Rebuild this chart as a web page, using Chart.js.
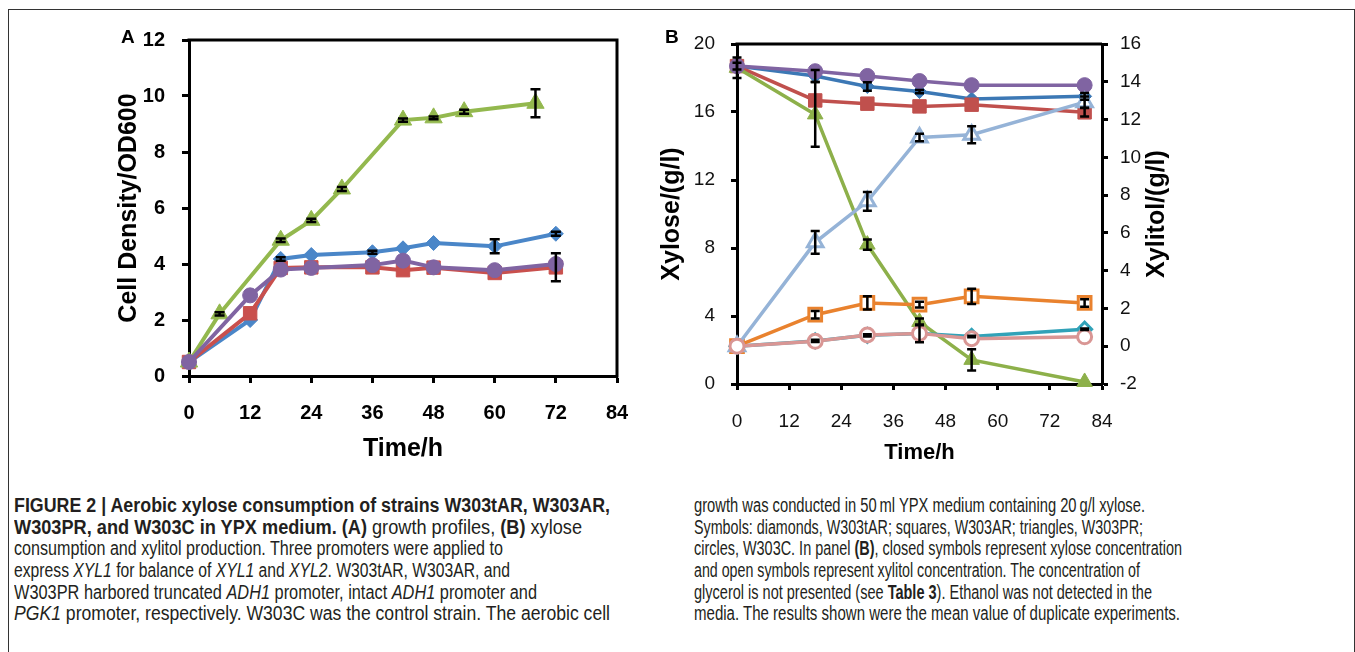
<!DOCTYPE html>
<html>
<head>
<meta charset="utf-8">
<script src="https://cdn.jsdelivr.net/npm/chart.js@4.4.1/dist/chart.umd.min.js"></script>
<style>
  body { margin: 0; width: 1355px; height: 652px; background: #fff; position: relative; overflow: hidden;
         font-family: "Liberation Sans", Arial, sans-serif; }
  #frame { position: absolute; left: 8px; top: 9px; width: 1345px; height: 700px; border: 1px solid #333; }
  canvas { position: absolute; }
  #chartA { left: 110px; top: 25px; }
  #chartB { left: 650px; top: 25px; }
  .panel { position: absolute; font-weight: bold; font-size: 19px; color: #000; }
  .caption { position: absolute; top: 495px; font-family: "Liberation Sans Narrow", "Liberation Sans", Arial, sans-serif;
             font-size: 20px; line-height: 21.7px; color: #231f20; white-space: nowrap; }
  .caption div { white-space: nowrap; height: 21.7px; }
  .caption span.line { display: inline-block; transform-origin: 0 0; }
</style>
</head>
<body>
<div id="frame"></div>
<canvas id="chartA" width="530" height="450"></canvas>
<canvas id="chartB" width="530" height="450"></canvas>
<div class="panel" style="left:121px; top:26px;">A</div>
<div class="panel" style="left:665px; top:26px;">B</div>

<!-- data-end: right edge of each caption line in the reference -->
<div class="caption" id="capLeft" style="left:14px;">
  <div><span class="line" data-end="610"><b>FIGURE 2 | Aerobic xylose consumption of strains W303tAR, W303AR,</b></span></div>
  <div><span class="line" data-end="582"><b>W303PR, and W303C in YPX medium. (A)</b> growth profiles, <b>(B)</b> xylose</span></div>
  <div><span class="line" data-end="503">consumption and xylitol production. Three promoters were applied to</span></div>
  <div><span class="line" data-end="510">express <i>XYL1</i> for balance of <i>XYL1</i> and <i>XYL2</i>. W303tAR, W303AR, and</span></div>
  <div><span class="line" data-end="537">W303PR harbored truncated <i>ADH1</i> promoter, intact <i>ADH1</i> promoter and</span></div>
  <div><span class="line" data-end="610"><i>PGK1</i> promoter, respectively. W303C was the control strain. The aerobic cell</span></div>
</div>
<div class="caption" id="capRight" style="left:694px;">
  <div><span class="line" data-end="1145">growth was conducted in 50&#8201;ml YPX medium containing 20&#8201;g/l xylose.</span></div>
  <div><span class="line" data-end="1143">Symbols: diamonds, W303tAR; squares, W303AR; triangles, W303PR;</span></div>
  <div><span class="line" data-end="1182">circles, W303C. In panel <b>(B)</b>, closed symbols represent xylose concentration</span></div>
  <div><span class="line" data-end="1140">and open symbols represent xylitol concentration. The concentration of</span></div>
  <div><span class="line" data-end="1152">glycerol is not presented (see <b>Table 3</b>). Ethanol was not detected in the</span></div>
  <div><span class="line" data-end="1180">media. The results shown were the mean value of duplicate experiments.</span></div>
</div>

<script>
// ---- Panel A: growth profiles (OD600) ----
const timeA = [0, 12, 18, 24, 36, 42, 48, 60, 72];
const timeA_PR = [0, 6, 18, 24, 30, 42, 48, 54, 68];
const odTAR = [0.5, 2.0, 4.18, 4.32, 4.42, 4.56, 4.75, 4.63, 5.08];
const odAR  = [0.5, 2.24, 3.86, 3.88, 3.88, 3.78, 3.87, 3.68, 3.88];
const odPR  = [0.5, 2.22, 4.85, 5.56, 6.68, 9.14, 9.22, 9.44, 9.74];
const odC   = [0.5, 2.88, 3.8, 3.86, 3.96, 4.12, 3.88, 3.78, 4.0];
const errTAR = [0, 0, 0.06, 0, 0.05, 0, 0, 0.25, 0.07];
const errAR  = [0, 0, 0, 0, 0, 0, 0, 0, 0.5];
const errPR  = [0, 0.06, 0.06, 0.06, 0.07, 0.06, 0.05, 0.07, 0.5];
const errC   = [0, 0, 0, 0, 0, 0, 0, 0, 0];

// ---- Panel B: xylose (left axis) and xylitol (right axis) ----
const timeB = [0, 18, 30, 42, 54, 80];
const xyloseTAR = [18.7, 18.12, 17.5, 17.2, 16.76, 16.92];
const xyloseAR  = [18.7, 16.68, 16.49, 16.33, 16.43, 15.98];
const xylosePR  = [18.6, 15.86, 8.2, 3.65, 1.42, 0.12];
const xyloseC   = [18.7, 18.4, 18.12, 17.82, 17.58, 17.58];
const xylitolTAR = [0, 0.28, 0.58, 0.68, 0.52, 0.9];
const xylitolAR  = [0, 1.67, 2.29, 2.2, 2.64, 2.29];
const xylitolPR  = [0, 5.5, 7.67, 11.05, 11.2, 12.92];
const xylitolC   = [0, 0.26, 0.6, 0.68, 0.4, 0.5];
const errXyloseTAR = [0.2, 0.35, 0.25, 0.1, 0, 0.2];
const errXyloseAR  = [0, 0, 0, 0, 0, 0.25];
const errXylosePR  = [0.6, 1.9, 0.3, 0.2, 0.62, 0];
const errXylitolTAR = [0, 0.06, 0.06, 0.47, 0.04, 0.04];
const errXylitolAR  = [0, 0.2, 0.35, 0.15, 0.4, 0.2];
const errXylitolPR  = [0, 0.6, 0.5, 0.2, 0.45, 0.3];

const ticksX = { min: 0, max: 84, step: 12 };

function pts(xs, ys) {
    return xs.map((x, i) => ({ x: x, y: ys[i] }));
}

Chart.defaults.font.family = '"Liberation Sans", Arial, sans-serif';
Chart.defaults.color = '#000';

// Error bars drawn from each dataset's "errors" array
const errorBars = {
    id: 'errorBars',
    afterDatasetsDraw(chart, args, opts) {
        const ctx = chart.ctx;
        ctx.save();
        ctx.strokeStyle = '#000';
        ctx.lineWidth = opts.lineWidth;
        chart.data.datasets.forEach((ds, i) => {
            if (!ds.errors) return;
            const meta = chart.getDatasetMeta(i);
            const yScale = chart.scales[meta.yAxisID];
            meta.data.forEach((pt, j) => {
                const e = ds.errors[j];
                if (!e) return;
                const v = ds.data[j].y;
                const y1 = yScale.getPixelForValue(v + e);
                const y2 = yScale.getPixelForValue(v - e);
                const hw = opts.capWidth / 2;
                ctx.beginPath();
                ctx.moveTo(pt.x, y1); ctx.lineTo(pt.x, y2);
                ctx.moveTo(pt.x - hw, y1); ctx.lineTo(pt.x + hw, y1);
                ctx.moveTo(pt.x - hw, y2); ctx.lineTo(pt.x + hw, y2);
                ctx.stroke();
            });
        });
        ctx.restore();
    }
};

// Top (and right) border of the plot box, plus an optional right-hand title
const plotBox = {
    id: 'plotBox',
    afterDraw(chart, args, opts) {
        const ctx = chart.ctx;
        const a = chart.chartArea;
        ctx.save();
        ctx.strokeStyle = '#000';
        ctx.lineWidth = 3;
        ctx.beginPath();
        ctx.moveTo(a.left - 1.5, a.top);
        ctx.lineTo(a.right, a.top);
        if (opts.right) ctx.lineTo(a.right, a.bottom + 1.5);
        ctx.stroke();
        if (opts.rightTitle) {
            ctx.translate(opts.rightTitleX, (a.top + a.bottom) / 2);
            ctx.rotate(-Math.PI / 2);
            ctx.font = 'bold 25px "Liberation Sans", Arial, sans-serif';
            ctx.fillStyle = '#000';
            ctx.textAlign = 'center';
            ctx.textBaseline = 'middle';
            ctx.fillText(opts.rightTitle, 0, 0);
        }
        ctx.restore();
    }
};

// fixed axis sizes so the plot box lands where the reference has it
function fixSize(w, h) {
    return s => {
        if (w) s.width = w;
        if (h) s.height = h;
        s.paddingTop = 0; s.paddingBottom = 0;
        s.paddingLeft = 0; s.paddingRight = 0;
    };
}

function lineSet(label, xs, ys, errs, color, style, radius, opts) {
    opts = opts || {};
    return Object.assign({
        label: label,
        data: pts(xs, ys),
        errors: errs,
        borderColor: color,
        backgroundColor: color,
        pointBackgroundColor: opts.open ? '#fff' : color,
        pointBorderColor: color,
        pointBorderWidth: opts.open ? 3 : 1,
        borderWidth: opts.lineWidth || 4,
        pointStyle: style,
        pointRadius: radius,
        tension: 0,
        clip: false,
        yAxisID: opts.yAxisID || 'y'
    }, opts.extra || {});
}

// ---------- Panel A ----------
new Chart(document.getElementById('chartA'), {
    type: 'line',
    data: {
        datasets: [
            lineSet('W303C', timeA, odC, errC, '#8064a2', 'circle', 7.5, { extra: { order: 1 } }),
            lineSet('W303PR', timeA_PR, odPR, errPR, '#93b84e', 'triangle', 10, { extra: { order: 2 } }),
            lineSet('W303AR', timeA, odAR, errAR, '#c9504d', 'rect', 9.5, { extra: { order: 3 } }),
            lineSet('W303tAR', timeA, odTAR, errTAR, '#4a86c8', 'rectRot', 7.5, { extra: { order: 4 } })
        ]
    },
    options: {
        responsive: false,
        animation: false,
        events: [],
        layout: { padding: { left: 0, right: 23, top: 15, bottom: 0 } },
        plugins: {
            legend: { display: false },
            tooltip: { enabled: false },
            errorBars: { lineWidth: 2.5, capWidth: 10 },
            plotBox: { right: true }
        },
        scales: {
            x: {
                type: 'linear', min: ticksX.min, max: ticksX.max,
                afterFit: fixSize(0, 99),
                ticks: { stepSize: ticksX.step, padding: 18, font: { size: 20, weight: 'bold' }, color: '#000' },
                grid: { drawOnChartArea: false, drawTicks: true, tickLength: 7, tickWidth: 3, tickColor: '#000' },
                border: { display: true, color: '#000', width: 3 },
                title: { display: true, text: 'Time/h', font: { size: 25, weight: 'bold' }, color: '#000',
                         padding: { top: 0, bottom: 11 } }
            },
            y: {
                min: 0, max: 12,
                afterFit: fixSize(79, 0),
                ticks: { stepSize: 2, padding: 17, font: { size: 20, weight: 'bold' }, color: '#000' },
                grid: { drawOnChartArea: false, drawTicks: true, tickLength: 7, tickWidth: 3, tickColor: '#000' },
                border: { display: true, color: '#000', width: 3 },
                title: { display: true, text: 'Cell Density/OD600', font: { size: 25, weight: 'bold' }, color: '#000',
                         padding: { top: 4, bottom: 0 } }
            }
        }
    },
    plugins: [errorBars, plotBox]
});

// ---------- Panel B ----------
new Chart(document.getElementById('chartB'), {
    type: 'line',
    data: {
        datasets: [
            lineSet('W303C xylitol', timeB, xylitolC, null, '#d99694', 'circle', 7, { open: true, lineWidth: 3.5, yAxisID: 'y2', extra: { order: 1 } }),
            lineSet('W303PR xylitol', timeB, xylitolPR, errXylitolPR, '#95b3d7', 'triangle', 9, { open: true, lineWidth: 3.5, yAxisID: 'y2', extra: { order: 2 } }),
            lineSet('W303AR xylitol', timeB, xylitolAR, errXylitolAR, '#e9822e', 'rect', 9, { open: true, lineWidth: 3.5, yAxisID: 'y2', extra: { order: 3 } }),
            lineSet('W303tAR xylitol', timeB, xylitolTAR, errXylitolTAR, '#31a2b8', 'rectRot', 7, { open: true, lineWidth: 3.5, yAxisID: 'y2', extra: { order: 4 } }),
            lineSet('W303C xylose', timeB, xyloseC, null, '#8064a2', 'circle', 7.5, { lineWidth: 3.5, extra: { order: 5 } }),
            lineSet('W303PR xylose', timeB, xylosePR, errXylosePR, '#8db04a', 'triangle', 9, { lineWidth: 3.5, extra: { order: 6 } }),
            lineSet('W303AR xylose', timeB, xyloseAR, errXyloseAR, '#c0504d', 'rect', 9.5, { lineWidth: 3.5, extra: { order: 7 } }),
            lineSet('W303tAR xylose', timeB, xyloseTAR, errXyloseTAR, '#3c78b5', 'rectRot', 7, { lineWidth: 3.5, extra: { order: 8 } })
        ]
    },
    options: {
        responsive: false,
        animation: false,
        events: [],
        layout: { padding: { left: 0, right: 0, top: 19, bottom: 0 } },
        plugins: {
            legend: { display: false },
            tooltip: { enabled: false },
            errorBars: { lineWidth: 2.5, capWidth: 9 },
            plotBox: { right: false, rightTitle: 'Xylitol/(g/l)', rightTitleX: 507 }
        },
        scales: {
            x: {
                type: 'linear', min: ticksX.min, max: ticksX.max,
                afterFit: fixSize(0, 91),
                ticks: { stepSize: ticksX.step, padding: 20, font: { size: 19 }, color: '#111' },
                grid: { drawOnChartArea: false, drawTicks: true, tickLength: 6, tickWidth: 3, tickColor: '#000' },
                border: { display: true, color: '#000', width: 3 },
                title: { display: true, text: 'Time/h', font: { size: 22, weight: 'bold' }, color: '#000',
                         padding: { top: 0, bottom: 9 } }
            },
            y: {
                position: 'left', min: 0, max: 20,
                afterFit: fixSize(87, 0),
                ticks: { stepSize: 4, padding: 16, font: { size: 19 }, color: '#111' },
                grid: { drawOnChartArea: false, drawTicks: true, tickLength: 6, tickWidth: 3, tickColor: '#000' },
                border: { display: true, color: '#000', width: 3 },
                title: { display: true, text: 'Xylose/(g/l)', font: { size: 25, weight: 'bold' }, color: '#000',
                         padding: { top: 7, bottom: 0 } }
            },
            y2: {
                position: 'right', min: -2, max: 16,
                afterFit: fixSize(78, 0),
                ticks: { stepSize: 2, padding: 12, font: { size: 19 }, color: '#111' },
                grid: { drawOnChartArea: false, drawTicks: true, tickLength: 6, tickWidth: 3, tickColor: '#000' },
                border: { display: true, color: '#000', width: 3 }
            }
        }
    },
    plugins: [errorBars, plotBox]
});

// Squeeze each caption line to the width it has in the reference
document.querySelectorAll('.caption span.line').forEach(s => {
    const r = s.getBoundingClientRect();
    const target = Number(s.dataset.end) - r.left;
    if (r.width > 0 && target > 0) s.style.transform = 'scaleX(' + (target / r.width) + ')';
});
</script>
</body>
</html>
